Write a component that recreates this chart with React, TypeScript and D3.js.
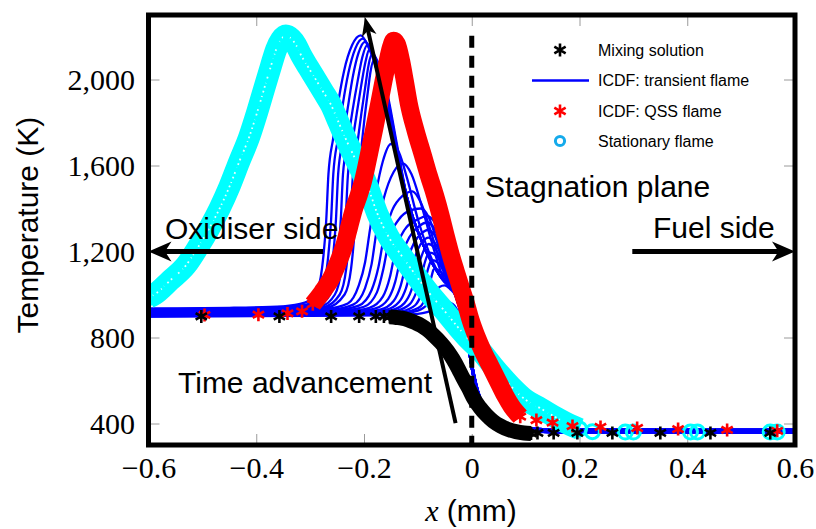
import * as d3 from "d3";
import { useEffect, useRef } from "react";

type Pt = [number, number];

// axis ticks
const xTicks = [-0.6, -0.4, -0.2, 0, 0.2, 0.4, 0.6];
const yTicks = [400, 800, 1200, 1600, 2000];

// Mixing solution (black asterisks), x in mm, T in K
const mixingSolution: Pt[] = [
  [-0.502, 898], [-0.357, 898], [-0.261, 898], [-0.209, 898], [-0.178, 898], [-0.163, 898],
  [-0.152, 896], [-0.14, 893], [-0.13, 890], [-0.118, 882], [-0.106, 870], [-0.094, 856],
  [-0.082, 835], [-0.07, 808], [-0.057, 775], [-0.045, 738], [-0.035, 700], [-0.025, 655],
  [-0.016, 610], [-0.006, 565], [0.004, 515], [0.015, 475], [0.027, 440], [0.04, 410],
  [0.054, 388], [0.068, 372], [0.082, 362], [0.097, 356], [0.11, 354],
  [0.122, 356], [0.152, 356], [0.196, 356], [0.261, 356], [0.35, 356], [0.443, 356], [0.554, 356],
];

// ICDF: QSS flame (red asterisks)
const qssFlame: Pt[] = [
  [-0.496, 905], [-0.396, 906], [-0.342, 912], [-0.315, 922],
  [-0.295, 955], [-0.278, 1010], [-0.261, 1075], [-0.248, 1150], [-0.237, 1225], [-0.228, 1310],
  [-0.219, 1395], [-0.21, 1460], [-0.202, 1525], [-0.191, 1650], [-0.181, 1770], [-0.172, 1885],
  [-0.164, 1990], [-0.157, 2075], [-0.15, 2150], [-0.145, 2180], [-0.139, 2165], [-0.131, 2085],
  [-0.124, 1990], [-0.117, 1890], [-0.104, 1760], [-0.091, 1650], [-0.08, 1555], [-0.068, 1460],
  [-0.058, 1370], [-0.048, 1270], [-0.039, 1185], [-0.03, 1110], [-0.02, 1030], [-0.011, 960],
  [-0.002, 880], [0.008, 810], [0.02, 740], [0.035, 665], [0.05, 590], [0.062, 530], [0.074, 480],
  [0.09, 432], [0.12, 416], [0.15, 404], [0.187, 388], [0.239, 384], [0.307, 379], [0.383, 374],
  [0.474, 370], [0.567, 366],
];

// Stationary flame (cyan circles)
const stationaryFlame: Pt[] = [
  [-0.6, 985], [-0.589, 1000], [-0.56, 1065], [-0.53, 1137], [-0.508, 1220], [-0.487, 1309],
  [-0.468, 1400], [-0.45, 1500], [-0.432, 1615], [-0.413, 1733], [-0.398, 1850], [-0.385, 1960],
  [-0.373, 2060], [-0.363, 2140], [-0.354, 2185], [-0.345, 2205], [-0.335, 2190], [-0.326, 2160],
  [-0.317, 2114], [-0.303, 2055], [-0.289, 1998], [-0.275, 1940], [-0.261, 1881], [-0.247, 1800],
  [-0.233, 1719], [-0.22, 1650], [-0.206, 1579], [-0.19, 1480], [-0.175, 1375], [-0.154, 1267],
  [-0.133, 1190], [-0.111, 1114], [-0.08, 1010], [-0.052, 928], [-0.026, 849], [-0.005, 790],
  [0.017, 737], [0.04, 665], [0.072, 575], [0.1, 510], [0.128, 470], [0.155, 430], [0.183, 393],
  [0.2, 375],
  [0.224, 362], [0.285, 360], [0.3, 360], [0.406, 360], [0.419, 360], [0.554, 360], [0.567, 360],
];

// ICDF transient flame: one profile per time step (blue lines)
const hotTail: Pt[] = [
  [-0.03, 1000], [-0.015, 880], [-0.005, 760], [0.003, 640], [0.015, 520], [0.035, 440],
  [0.06, 398], [0.1, 376], [0.2, 371], [0.6, 370],
];
const coldTail: Pt[] = [
  [-0.03, 995], [-0.016, 875], [-0.006, 750], [0.002, 630], [0.014, 510], [0.034, 430],
  [0.06, 388], [0.1, 364], [0.2, 359], [0.6, 358],
];
const bigFlames: Pt[][] = [
  [[-0.6, 935], [-0.45, 938], [-0.35, 945], [-0.31, 962], [-0.29, 1000], [-0.278, 1120], [-0.27, 1350], [-0.266, 1560], [-0.257, 1730], [-0.248, 1890], [-0.237, 2040], [-0.222, 2160], [-0.206, 2205], [-0.19, 2140], [-0.17, 1990], [-0.145, 1720], [-0.12, 1450], [-0.09, 1230], [-0.06, 1090]],
  [[-0.6, 932], [-0.45, 935], [-0.35, 942], [-0.3, 958], [-0.281, 1000], [-0.269, 1120], [-0.261, 1350], [-0.257, 1560], [-0.248, 1730], [-0.239, 1890], [-0.229, 2030], [-0.216, 2145], [-0.202, 2190], [-0.187, 2130], [-0.168, 1985], [-0.144, 1715], [-0.12, 1450], [-0.09, 1230], [-0.06, 1090]],
  [[-0.6, 929], [-0.45, 932], [-0.35, 939], [-0.29, 955], [-0.272, 1000], [-0.26, 1120], [-0.252, 1350], [-0.248, 1560], [-0.239, 1720], [-0.23, 1870], [-0.221, 2010], [-0.21, 2125], [-0.198, 2175], [-0.184, 2120], [-0.166, 1980], [-0.143, 1710], [-0.12, 1450], [-0.09, 1230], [-0.06, 1090]],
  [[-0.6, 926], [-0.45, 929], [-0.35, 936], [-0.285, 950], [-0.263, 1000], [-0.251, 1120], [-0.243, 1350], [-0.239, 1560], [-0.23, 1710], [-0.221, 1860], [-0.212, 1990], [-0.203, 2105], [-0.194, 2160], [-0.181, 2110], [-0.164, 1975], [-0.142, 1705], [-0.12, 1450], [-0.09, 1230], [-0.06, 1090]],
  [[-0.6, 923], [-0.45, 926], [-0.35, 933], [-0.28, 946], [-0.254, 1000], [-0.242, 1120], [-0.234, 1350], [-0.23, 1550], [-0.222, 1700], [-0.213, 1850], [-0.205, 1975], [-0.197, 2085], [-0.19, 2140], [-0.178, 2100], [-0.162, 1970], [-0.141, 1700], [-0.12, 1450], [-0.09, 1230], [-0.06, 1090]],
  [[-0.6, 920], [-0.45, 923], [-0.35, 930], [-0.275, 942], [-0.245, 1000], [-0.233, 1120], [-0.225, 1350], [-0.221, 1540], [-0.213, 1690], [-0.205, 1840], [-0.198, 1960], [-0.192, 2060], [-0.186, 2115], [-0.175, 2085], [-0.16, 1960], [-0.14, 1700], [-0.12, 1450], [-0.09, 1230], [-0.06, 1090]],
  [[-0.6, 917], [-0.45, 920], [-0.35, 927], [-0.27, 938], [-0.236, 1000], [-0.224, 1120], [-0.216, 1350], [-0.212, 1530], [-0.205, 1680], [-0.199, 1820], [-0.193, 1940], [-0.188, 2035], [-0.182, 2090], [-0.172, 2065], [-0.158, 1950], [-0.139, 1700], [-0.12, 1450], [-0.09, 1230], [-0.06, 1090]],
];
const midFlames: Pt[][] = [
  [[-0.6, 915], [-0.45, 918], [-0.35, 924], [-0.27, 933], [-0.23, 958], [-0.21, 1040], [-0.198, 1150], [-0.189, 1300], [-0.178, 1470], [-0.165, 1620], [-0.15, 1700], [-0.135, 1660], [-0.12, 1540], [-0.1, 1350], [-0.08, 1200], [-0.055, 1070]],
  [[-0.6, 913], [-0.45, 916], [-0.35, 922], [-0.26, 930], [-0.22, 953], [-0.198, 1030], [-0.186, 1140], [-0.177, 1290], [-0.163, 1450], [-0.145, 1570], [-0.128, 1610], [-0.112, 1560], [-0.095, 1430], [-0.075, 1250], [-0.055, 1090]],
  [[-0.6, 911], [-0.45, 914], [-0.35, 920], [-0.25, 928], [-0.21, 948], [-0.186, 1020], [-0.173, 1130], [-0.163, 1270], [-0.148, 1390], [-0.128, 1460], [-0.11, 1480], [-0.095, 1430], [-0.078, 1310], [-0.06, 1160], [-0.045, 1060]],
  [[-0.6, 909], [-0.45, 912], [-0.35, 918], [-0.24, 926], [-0.2, 943], [-0.176, 1010], [-0.164, 1120], [-0.153, 1260], [-0.135, 1350], [-0.115, 1390], [-0.095, 1400], [-0.08, 1360], [-0.065, 1250], [-0.05, 1120]],
];
const smallFlames: Pt[][] = [
  [[-0.6, 907], [-0.45, 910], [-0.35, 915], [-0.23, 923], [-0.19, 938], [-0.165, 990], [-0.152, 1080], [-0.142, 1200], [-0.125, 1300], [-0.1, 1350], [-0.083, 1365], [-0.07, 1340], [-0.058, 1250], [-0.045, 1120]],
  [[-0.6, 905], [-0.45, 908], [-0.35, 913], [-0.22, 921], [-0.18, 934], [-0.155, 980], [-0.142, 1060], [-0.132, 1170], [-0.115, 1270], [-0.097, 1320], [-0.083, 1335], [-0.07, 1310], [-0.058, 1230], [-0.045, 1110]],
  [[-0.6, 904], [-0.45, 907], [-0.35, 911], [-0.21, 919], [-0.17, 930], [-0.145, 970], [-0.132, 1040], [-0.122, 1140], [-0.107, 1240], [-0.093, 1285], [-0.082, 1300], [-0.07, 1280], [-0.058, 1210], [-0.045, 1100]],
  [[-0.6, 903], [-0.45, 906], [-0.35, 910], [-0.2, 917], [-0.16, 928], [-0.135, 965], [-0.122, 1030], [-0.112, 1120], [-0.1, 1210], [-0.09, 1250], [-0.081, 1265], [-0.07, 1245], [-0.058, 1190], [-0.045, 1090]],
  [[-0.6, 902], [-0.45, 905], [-0.35, 908], [-0.19, 915], [-0.15, 926], [-0.125, 960], [-0.112, 1020], [-0.103, 1100], [-0.093, 1180], [-0.085, 1225], [-0.08, 1235], [-0.07, 1220], [-0.058, 1170], [-0.045, 1080]],
  [[-0.6, 901], [-0.45, 904], [-0.35, 907], [-0.18, 913], [-0.14, 924], [-0.115, 955], [-0.103, 1010], [-0.094, 1080], [-0.087, 1150], [-0.082, 1185], [-0.078, 1195], [-0.068, 1185], [-0.056, 1145], [-0.044, 1070]],
  [[-0.6, 900], [-0.45, 903], [-0.35, 906], [-0.17, 911], [-0.13, 922], [-0.105, 950], [-0.094, 1000], [-0.087, 1060], [-0.081, 1120], [-0.077, 1150], [-0.073, 1160], [-0.064, 1150], [-0.053, 1115], [-0.042, 1055]],
  [[-0.6, 899], [-0.45, 902], [-0.35, 905], [-0.16, 909], [-0.12, 920], [-0.095, 945], [-0.085, 990], [-0.079, 1040], [-0.074, 1090], [-0.071, 1115], [-0.068, 1120], [-0.06, 1110], [-0.05, 1085], [-0.04, 1040]],
  [[-0.6, 898], [-0.45, 900], [-0.3, 903], [-0.15, 906], [-0.1, 925], [-0.08, 960], [-0.068, 1005], [-0.06, 1035], [-0.05, 1042], [-0.04, 1025]],
];
const earliestFlame: Pt[] = [
  [-0.6, 897], [-0.45, 899], [-0.3, 901], [-0.15, 903], [-0.1, 910], [-0.07, 930], [-0.055, 955],
  [-0.045, 965], [-0.035, 955], [-0.022, 900], [-0.01, 800], [0, 680], [0.012, 550], [0.03, 450],
  [0.055, 395], [0.1, 362], [0.2, 358], [0.6, 358],
];

const transientFlames: Pt[][] = [
  ...bigFlames.map((c) => [...c, ...hotTail]),
  ...midFlames.map((c) => [...c, ...hotTail]),
  ...smallFlames.map((c) => [...c, ...coldTail]),
  earliestFlame,
];

// annotation anchors (data space)
const stagnationX = 0;
const sideArrowT = 1200;
const oxidiserArrow: Pt[] = [[-0.276, sideArrowT], [-0.6, sideArrowT]];
const fuelArrow: Pt[] = [[0.298, sideArrowT], [0.6, sideArrowT]];
const timeArrow: Pt[] = [[-0.03, 402], [-0.198, 2290]];

const legendItems = ["Mixing solution", "ICDF: transient flame", "ICDF: QSS flame", "Stationary flame"];

const width = 816;
const height = 529;
const plot = { left: 148.5, right: 795, top: 15, bottom: 445 };

const x = d3.scaleLinear().domain([-0.6, 0.6]).range([plot.left, plot.right]);
const y = d3.scaleLinear().domain([300, 2300]).range([plot.bottom, plot.top]);

const line = d3
  .line<Pt>()
  .x((d) => x(d[0]))
  .y((d) => y(d[1]))
  .curve(d3.curveMonotoneX);

const asterisk = d3.symbol(d3.symbolAsterisk, 120)();

const SERIF = "'Liberation Serif', 'DejaVu Serif', serif";
const SANS = "'Liberation Sans', Arial, sans-serif";

function arrowHead(tip: Pt, from: Pt, len: number, half: number) {
  const dx = tip[0] - from[0];
  const dy = tip[1] - from[1];
  const n = Math.hypot(dx, dy);
  const ux = dx / n;
  const uy = dy / n;
  const bx = tip[0] - ux * len;
  const by = tip[1] - uy * len;
  const nx = tip[0] - ux * len * 0.72;
  const ny = tip[1] - uy * len * 0.72;
  return `M${tip[0]},${tip[1]}L${bx - uy * half},${by + ux * half}L${nx},${ny}L${bx + uy * half},${by - ux * half}Z`;
}

function Arrow({ from, to, w, len, half }: { from: Pt; to: Pt; w: number; len: number; half: number }) {
  const a: Pt = [x(from[0]), y(from[1])];
  const b: Pt = [x(to[0]), y(to[1])];
  const n = Math.hypot(b[0] - a[0], b[1] - a[1]);
  const e: Pt = [b[0] - ((b[0] - a[0]) / n) * len * 0.7, b[1] - ((b[1] - a[1]) / n) * len * 0.7];
  return (
    <g>
      <line x1={a[0]} y1={a[1]} x2={e[0]} y2={e[1]} stroke="#000" strokeWidth={w} />
      <path d={arrowHead(b, a, len, half)} fill="#000" />
    </g>
  );
}

function select(node: SVGGElement, axis: any, style: (g: any) => void) {
  const g = d3.select(node);
  g.call(axis);
  style(g);
}

function Axes() {
  const bottomRef = useRef<SVGGElement>(null);
  const leftRef = useRef<SVGGElement>(null);
  const topRef = useRef<SVGGElement>(null);
  const rightRef = useRef<SVGGElement>(null);

  useEffect(() => {
    const style = (g: d3.Selection<SVGGElement, unknown, null, undefined>) => {
      g.select(".domain").remove();
      g.selectAll(".tick line").attr("stroke", "#9a9a9a").attr("stroke-width", 1);
      g.selectAll(".tick text").attr("fill", "#000");
      g.attr("font-family", SERIF).attr("font-size", 30);
    };
    if (bottomRef.current) {
      select(bottomRef.current, d3.axisBottom(x).tickValues(xTicks).tickSize(-11).tickPadding(11.5).tickFormat(d3.format("")), style);
    }
    if (leftRef.current) {
      select(leftRef.current, d3.axisLeft(y).tickValues(yTicks).tickSize(-11).tickPadding(13.5).tickFormat(d3.format(",")), style);
    }
    if (topRef.current) {
      select(topRef.current, d3.axisTop(x).tickValues(xTicks).tickSize(-11).tickFormat(() => ""), style);
    }
    if (rightRef.current) {
      select(rightRef.current, d3.axisRight(y).tickValues(yTicks).tickSize(-11).tickFormat(() => ""), style);
    }
  }, []);

  return (
    <>
      <g ref={bottomRef} transform={`translate(0,${plot.bottom})`} />
      <g ref={leftRef} transform={`translate(${plot.left},0)`} />
      <g ref={topRef} transform={`translate(0,${plot.top})`} />
      <g ref={rightRef} transform={`translate(${plot.right},0)`} />
    </>
  );
}

function Stars({ data, color }: { data: Pt[]; color: string }) {
  return (
    <g stroke={color} strokeWidth={2.6} fill="none">
      {data.map((d, i) => (
        <path key={i} d={asterisk ?? ""} transform={`translate(${x(d[0])},${y(d[1])})`} />
      ))}
    </g>
  );
}

export default function App() {
  const redDense = qssFlame.filter((d) => d[0] >= -0.3 && d[0] <= 0.09);
  const blackDense = mixingSolution.filter((d) => d[0] >= -0.16 && d[0] <= 0.112);
  const cyanDense = stationaryFlame.filter((d) => d[0] <= 0.2);
  const legendX = 560;
  const legendY = [50, 80.5, 111, 141];

  return (
    <svg width={width} height={height} style={{ position: "absolute", left: 0, top: 0, background: "#fff" }}>
      <defs>
        <clipPath id="plot-clip">
          <rect x={plot.left} y={plot.top} width={plot.right - plot.left} height={plot.bottom - plot.top} />
        </clipPath>
      </defs>
      <rect width={width} height={height} fill="#fff" />
      <Axes />

      <g clipPath="url(#plot-clip)">
        {/* transient flame profiles */}
        <g fill="none" stroke="#0000ff" strokeWidth={2.3}>
          {transientFlames.map((c, i) => (
            <path key={i} d={line(c) ?? ""} />
          ))}
        </g>

        {/* stationary flame: dense circles drawn as a band */}
        <path d={line(cyanDense) ?? ""} fill="none" stroke="#00ffff" strokeWidth={22} strokeLinejoin="round" />
        <path d={line(cyanDense) ?? ""} fill="none" stroke="#fff" strokeWidth={1.8} strokeDasharray="1.8 3" opacity={0.9} />
        <g fill="none" stroke="#00ffff" strokeWidth={3}>
          {stationaryFlame.map((d, i) => (
            <circle key={i} cx={x(d[0])} cy={y(d[1])} r={7} />
          ))}
        </g>

        {/* QSS flame */}
        <path d={line(redDense) ?? ""} fill="none" stroke="#ff0000" strokeWidth={18} strokeLinejoin="round" />
        <Stars data={qssFlame} color="#ff0000" />

        {/* mixing solution */}
        <path d={line(blackDense) ?? ""} fill="none" stroke="#000" strokeWidth={15} strokeLinejoin="round" />
        <Stars data={mixingSolution} color="#000" />
      </g>

      {/* stagnation plane */}
      <line
        x1={x(stagnationX)}
        x2={x(stagnationX)}
        y1={35.7}
        y2={plot.bottom}
        stroke="#000"
        strokeWidth={5}
        strokeDasharray="12 8"
      />

      <Arrow from={oxidiserArrow[0]} to={oxidiserArrow[1]} w={5} len={23} half={10} />
      <Arrow from={fuelArrow[0]} to={fuelArrow[1]} w={5} len={23} half={10} />
      <Arrow from={timeArrow[0]} to={timeArrow[1]} w={4} len={19} half={7.5} />

      <g fontFamily={SANS} fontSize={30} fill="#000">
        <text x={165} y={239}>Oxidiser side</text>
        <text x={653} y={238}>Fuel side</text>
        <text x={485} y={197}>Stagnation plane</text>
        <text x={178} y={393}>Time advancement</text>
      </g>

      {/* legend */}
      <g fontFamily={SANS} fontSize={16} fill="#000">
        <path d={asterisk ?? ""} transform={`translate(${legendX},${legendY[0]})`} stroke="#000" strokeWidth={2.6} fill="none" />
        <line x1={532} x2={589} y1={legendY[1]} y2={legendY[1]} stroke="#0000ff" strokeWidth={2.6} />
        <path d={asterisk ?? ""} transform={`translate(${legendX},${legendY[2]})`} stroke="#ff0000" strokeWidth={2.6} fill="none" />
        <circle cx={legendX} cy={legendY[3]} r={4.6} fill="none" stroke="#14aaeb" strokeWidth={3} />
        {legendItems.map((t, i) => (
          <text key={t} x={598} y={legendY[i] + 5.5}>
            {t}
          </text>
        ))}
      </g>

      {/* frame */}
      <rect
        x={plot.left}
        y={plot.top}
        width={plot.right - plot.left}
        height={plot.bottom - plot.top}
        fill="none"
        stroke="#000"
        strokeWidth={5}
      />

      <text
        transform={`translate(38,225) rotate(-90)`}
        textAnchor="middle"
        fontFamily={SANS}
        fontSize={30}
      >
        Temperature (K)
      </text>
      <text x={471} y={521} textAnchor="middle" fontSize={30}>
        <tspan fontFamily={SERIF} fontStyle="italic">x</tspan>
        <tspan fontFamily={SANS}> (mm)</tspan>
      </text>
    </svg>
  );
}
